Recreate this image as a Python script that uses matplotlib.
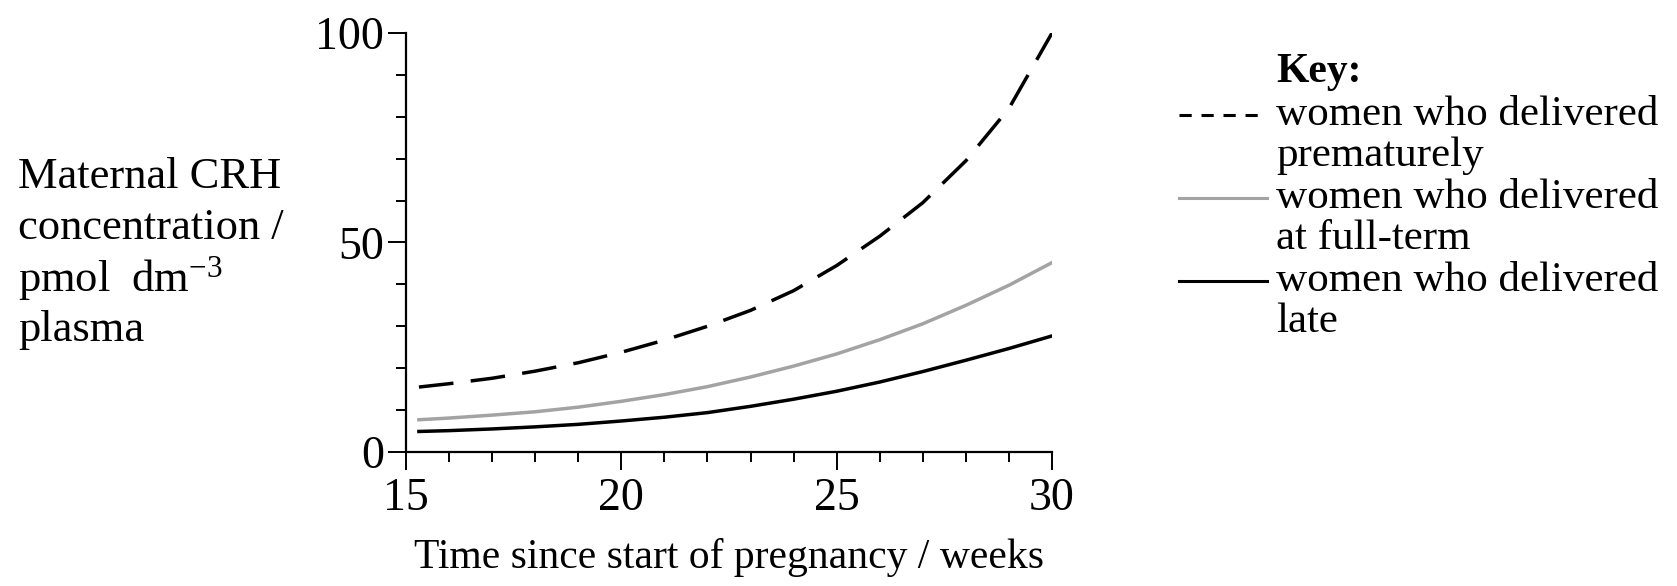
import matplotlib
matplotlib.use("Agg")
import matplotlib.pyplot as plt
from matplotlib.lines import Line2D
from matplotlib.ticker import MultipleLocator

weeks = [15.3, 16, 17, 18, 19, 20, 21, 22, 23, 24, 25, 26, 27, 28, 29, 30]
premature = [15.5, 16.3, 17.6, 19.3, 21.3, 23.8, 26.7, 30.0, 33.8, 38.5, 44.5, 51.5, 59.5, 69.5, 82.0, 100.0]
full_term = [7.7, 8.1, 8.8, 9.6, 10.7, 12.1, 13.7, 15.6, 17.9, 20.5, 23.4, 26.8, 30.6, 35.0, 39.8, 45.2]
late = [4.9, 5.1, 5.5, 6.0, 6.6, 7.4, 8.3, 9.4, 10.9, 12.6, 14.5, 16.7, 19.2, 21.9, 24.7, 27.7]

x_ticks = [15, 20, 25, 30]
y_ticks = [0, 50, 100]
legend_labels = ["women who delivered\nprematurely",
                 "women who delivered\nat full-term",
                 "women who delivered\nlate"]
ylabel_lines = ["Maternal CRH", "concentration /", r"pmol  dm$^{\mathregular{-3}}$", "plasma"]

plt.rcParams['font.family'] = ['Liberation Serif', 'DejaVu Serif']
plt.rcParams['mathtext.fontset'] = 'custom'
plt.rcParams['mathtext.rm'] = 'Liberation Serif'
plt.rcParams['mathtext.it'] = 'Liberation Serif:italic'

W, H = 1677, 586
fig = plt.figure(figsize=(W / 100, H / 100), dpi=100)
ax = fig.add_axes([406 / W, 1 - 452 / H, (1052 - 406) / W, (452 - 33) / H])

GRAY = '#a3a3a3'
ax.plot(weeks, premature, color='black', lw=2.5, linestyle=(0, (10, 5)), solid_capstyle='butt')
ax.plot(weeks, full_term, color=GRAY, lw=2.5)
ax.plot(weeks, late, color='black', lw=2.5)

ax.set_xlim(15, 30)
ax.set_ylim(0, 100)
ax.set_xticks(x_ticks)
ax.set_yticks(y_ticks)
ax.xaxis.set_minor_locator(MultipleLocator(1))
ax.yaxis.set_minor_locator(MultipleLocator(10))
for s in ['top', 'right']:
    ax.spines[s].set_visible(False)
for s in ['left', 'bottom']:
    ax.spines[s].set_linewidth(1.6)
ax.tick_params(which='major', direction='out', length=13, width=1.4, labelsize=33)
ax.tick_params(which='minor', direction='out', length=7.5, width=1.4)
ax.tick_params(axis='x', which='major', pad=5)
ax.tick_params(axis='y', which='major', pad=3)
ax.set_xlabel("Time since start of pregnancy / weeks", fontsize=30, labelpad=13)

# y label block
y0 = 177
for i, t in enumerate(ylabel_lines):
    fig.text(18 / W, 1 - (y0 + i * 51) / H, t, fontsize=32, ha='left', va='center')

# Key
fig.text(1276 / W, 1 - 72 / H, "Key:", fontsize=30, fontweight='bold', ha='left', va='center')
styles = [dict(color='black', linestyle=(0, (4, 3.2))),
          dict(color=GRAY, linestyle='-'),
          dict(color='black', linestyle='-')]
first_y = [115, 198, 281]
for lab, st, yy in zip(legend_labels, styles, first_y):
    yf = 1 - yy / H
    fig.add_artist(Line2D([1179 / W, 1267 / W], [yf, yf], lw=2.2, transform=fig.transFigure, **st))
    l1, l2 = lab.split("\n")
    fig.text(1276 / W, yf, l1, fontsize=31, ha='left', va='center')
    fig.text(1276 / W, 1 - (yy + 41) / H, l2, fontsize=31, ha='left', va='center')

fig.savefig("out.png", dpi=100)
